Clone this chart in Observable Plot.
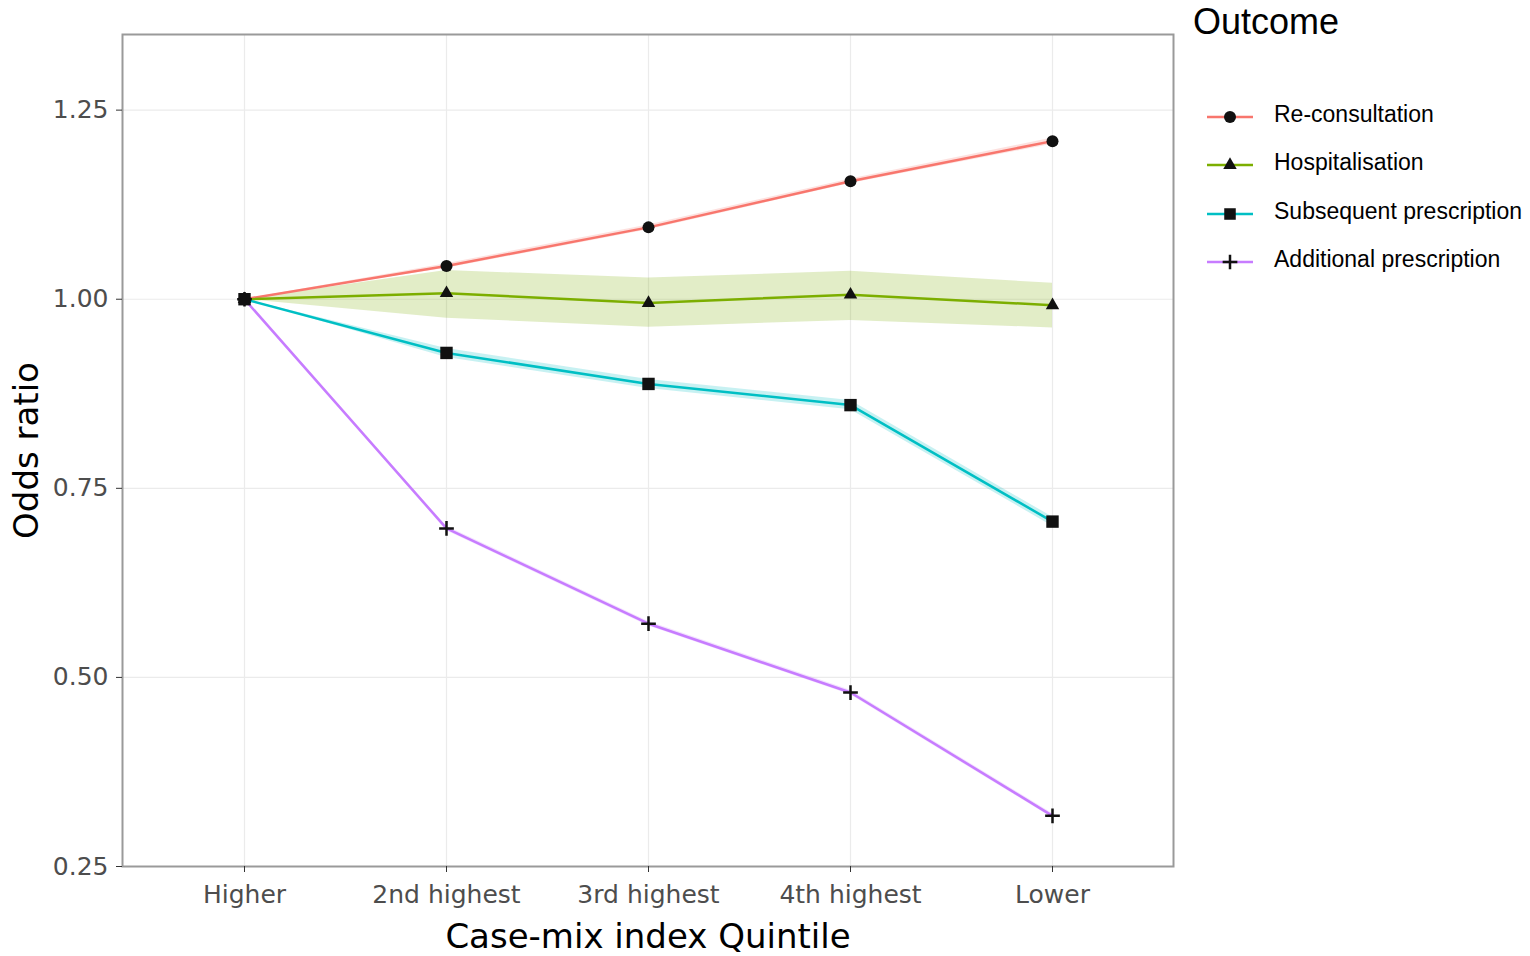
<!DOCTYPE html>
<html><head><meta charset="utf-8">
<script src="https://cdn.jsdelivr.net/npm/d3@7"></script>
<script src="https://cdn.jsdelivr.net/npm/@observablehq/plot@0.6"></script>
<style>
body{margin:0;background:#fff;}
#wrap{position:relative;width:1530px;height:956px;overflow:hidden;}
#legend{position:absolute;left:0;top:0;width:1530px;height:956px;pointer-events:none;font-family:"Liberation Sans",Arial,sans-serif;color:#000;}
.ltitle{position:absolute;left:1193px;top:1px;font-size:36px;line-height:42px;}
.litem{position:absolute;left:1205px;height:30px;display:flex;align-items:center;}
.litem span{font-size:23px;margin-left:19px;line-height:30px;position:relative;top:-3px;white-space:nowrap;}
</style></head><body>
<div id="wrap"><div id="chart"></div><div id="legend"></div></div>
<script>
const quintiles = ["Higher","2nd highest","3rd highest","4th highest","Lower"];
const outcomes = ["Re-consultation","Hospitalisation","Subsequent prescription","Additional prescription"];
const colors = ["#F8766D","#7CAE00","#00BFC4","#C77CFF"];
const symbols = ["circle","triangle","square","plus"];
const yTicks = [0.25,0.50,0.75,1.00,1.25];

const reconsultOR   = [1.000,1.044,1.095,1.156,1.209];
const reconsultLow  = [1.000,1.041,1.092,1.153,1.205];
const reconsultHigh = [1.000,1.047,1.098,1.159,1.213];
const hospOR   = [1.000,1.008,0.995,1.006,0.992];
const hospLow  = [1.000,0.975,0.963,0.972,0.962];
const hospHigh = [1.000,1.038,1.028,1.037,1.021];
const subseqOR   = [1.000,0.929,0.888,0.860,0.706];
const subseqLow  = [1.000,0.923,0.882,0.854,0.700];
const subseqHigh = [1.000,0.935,0.894,0.866,0.712];
const addOR   = [1.000,0.697,0.571,0.480,0.317];
const addLow  = [1.000,0.694,0.568,0.477,0.314];
const addHigh = [1.000,0.700,0.574,0.483,0.320];

const series = [
  [reconsultOR, reconsultLow, reconsultHigh],
  [hospOR, hospLow, hospHigh],
  [subseqOR, subseqLow, subseqHigh],
  [addOR, addLow, addHigh]
];
const rows = [];
outcomes.forEach((o,i)=>{
  quintiles.forEach((q,j)=>{
    rows.push({outcome:o, q, or:series[i][0][j], lo:series[i][1][j], hi:series[i][2][j]});
  });
});
const of = name => d => d.outcome === name;

const chart = Plot.plot({
  width:1530, height:956,
  marginLeft:122, marginRight:357, marginTop:34, marginBottom:90,
  style:{fontFamily:"'DejaVu Sans', sans-serif", color:"#4d4d4d", background:"white", overflow:"visible"},
  x:{type:"point", domain:quintiles, padding:0.6},
  y:{domain:[0.25,1.35]},
  color:{domain:outcomes, range:colors},
  symbol:{domain:outcomes, range:symbols},
  marks:[
    Plot.gridX(quintiles,{stroke:"#ebebeb", strokeOpacity:1, strokeWidth:1.2}),
    Plot.gridY(yTicks,{stroke:"#ebebeb", strokeOpacity:1, strokeWidth:1.2}),
    Plot.areaY(rows,{x:"q", y1:"lo", y2:"hi", z:"outcome", fill:"outcome", fillOpacity:0.22}),
    Plot.lineY(rows,{x:"q", y:"or", z:"outcome", stroke:"outcome", strokeWidth:2.5}),
    Plot.dot(rows.filter(of(outcomes[3])),{x:"q", y:"or", symbol:"outcome", stroke:"#111", strokeWidth:2.5, r:4.8}),
    Plot.dot(rows.filter(of(outcomes[1])),{x:"q", y:"or", symbol:"outcome", fill:"#111", r:5}),
    Plot.dot(rows.filter(of(outcomes[0])),{x:"q", y:"or", symbol:"outcome", fill:"#111", r:6}),
    Plot.dot(rows.filter(of(outcomes[2])),{x:"q", y:"or", symbol:"outcome", fill:"#111", r:7}),
    Plot.frame({stroke:"#9a9a9a", strokeWidth:2}),
    Plot.axisX({ticks:quintiles, tickSize:6, tickPadding:13, fontSize:25, label:null, stroke:"#333"}),
    Plot.axisY({ticks:yTicks, tickSize:6, tickPadding:8, fontSize:25, label:null, stroke:"#333", tickFormat:d=>d.toFixed(2)}),
    Plot.text(["Odds ratio"],{text:d=>d, frameAnchor:"left", dx:-95, rotate:-90, textAnchor:"middle", fontSize:34, fill:"#000"}),
    Plot.text(["Case-mix index Quintile"],{text:d=>d, frameAnchor:"bottom", dy:71, lineAnchor:"middle", fontSize:34, fill:"#000"})
  ]
});
document.getElementById("chart").appendChild(chart);

// legend
const legend = document.getElementById("legend");
const title = document.createElement("div");
title.className = "ltitle";
title.textContent = "Outcome";
legend.appendChild(title);
const symFns = {circle:d3.symbolCircle, triangle:d3.symbolTriangle, square:d3.symbolSquare, plus:d3.symbolPlus};
const symR = {circle:6, triangle:5, square:6.5, plus:4.8};
const rowCenters = [117, 165, 214, 262];
outcomes.forEach((o,i)=>{
  const item = document.createElement("div");
  item.className = "litem";
  item.style.top = (rowCenters[i]-15)+"px";
  const svg = d3.create("svg").attr("width",50).attr("height",30);
  svg.append("line").attr("x1",2).attr("x2",48).attr("y1",15).attr("y2",15)
    .attr("stroke",colors[i]).attr("stroke-width",2.5);
  const isP = symbols[i]==="plus";
  const size = Math.PI*symR[symbols[i]]**2;
  svg.append("path").attr("transform","translate(25,15)")
    .attr("d", d3.symbol(symFns[symbols[i]], size)())
    .attr("fill", isP ? "none" : "#111")
    .attr("stroke", isP ? "#111" : "none")
    .attr("stroke-width", isP ? 2.5 : 0);
  item.appendChild(svg.node());
  const span = document.createElement("span");
  span.textContent = o;
  item.appendChild(span);
  legend.appendChild(item);
});
</script>
</body></html>
